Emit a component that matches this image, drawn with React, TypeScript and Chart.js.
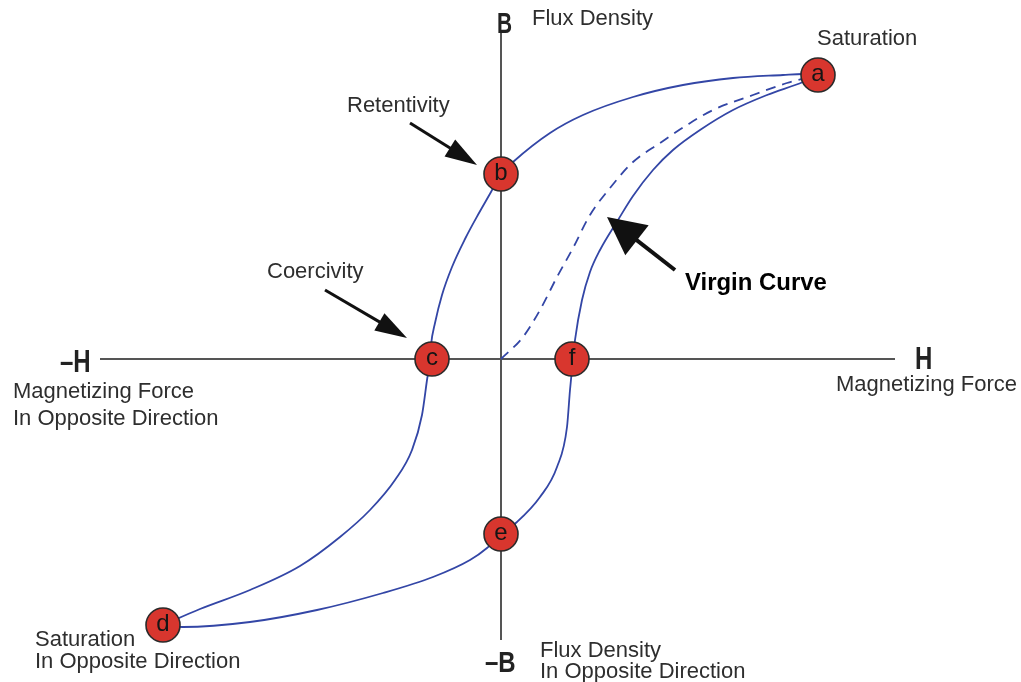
import { useEffect, useRef } from "react";
import { Chart, registerables } from "chart.js";

Chart.register(...registerables);

// Upper branch: a -> b -> c -> d (H, B in arbitrary units, origin at the axes crossing)
const upperH = [317, 302, 282, 232, 182, 132, 82, 49, 12, 0, -10, -22, -36, -49, -59, -66, -70, -71, -74, -79, -89, -106, -131, -161, -201, -251, -301, -338];
const upperB = [284, 285, 284, 281, 274, 262, 244, 226, 197, 185, 167, 146, 120, 92, 64, 36, 14, 0, -21, -56, -91, -121, -151, -178, -207, -231, -250, -266];

// Lower branch: d -> e -> f -> a
const lowerH = [-338, -318, -251, -184, -118, -68, -31, -14, 0, 16, 39, 56, 66, 69, 72, 74, 81, 89, 99, 117, 132, 152, 172, 199, 232, 266, 302, 317];
const lowerB = [-266, -268, -263, -251, -234, -218, -201, -189, -175, -163, -138, -108, -68, -31, 0, 19, 59, 87, 109, 139, 163, 189, 209, 229, 249, 264, 277, 284];

// Virgin curve: origin -> a
const virginH = [0, 22, 39, 56, 72, 89, 109, 132, 159, 186, 212, 252, 286, 317];
const virginB = [0, 22, 49, 82, 111, 144, 171, 197, 216, 234, 249, 264, 276, 284];

// Marked points
const pointNames = ["a", "b", "c", "d", "e", "f"];
const pointH = [317, 0, -69, -338, 0, 71];
const pointB = [284, 185, 0, -266, -175, 0];

// Axis extents
const hAxisExtent = [-401, 394];
const bAxisExtent = [-281, 329];

const toXY = (hs: number[], bs: number[]) => hs.map((h, i) => ({ x: h, y: bs[i] }));

const FONT = '"Liberation Sans", Arial, Helvetica, sans-serif';

type Txt = { t: string; h: number; b: number; size: number; bold?: boolean; sx?: number; color?: string };
const texts: Txt[] = [
  { t: "B", h: -4, b: 326, size: 29, bold: true, sx: 0.72, color: "#222" },
  { t: "Flux Density", h: 31, b: 334, size: 22, color: "#2e2e2e" },
  { t: "Saturation", h: 316, b: 314, size: 22, color: "#2e2e2e" },
  { t: "Retentivity", h: -154, b: 247, size: 22, color: "#2e2e2e" },
  { t: "Coercivity", h: -234, b: 81, size: 22, color: "#2e2e2e" },
  { t: "Virgin Curve", h: 184, b: 69, size: 23, bold: true, sx: 1.04, color: "#000" },
  { t: "–H", h: -441, b: -13, size: 32, bold: true, sx: 0.75, color: "#222" },
  { t: "Magnetizing Force", h: -488, b: -39, size: 22, color: "#2e2e2e" },
  { t: "In Opposite Direction", h: -488, b: -66, size: 22, color: "#2e2e2e" },
  { t: "H", h: 414, b: -10, size: 32, bold: true, sx: 0.75, color: "#222" },
  { t: "Magnetizing Force", h: 335, b: -32, size: 22, color: "#2e2e2e" },
  { t: "Saturation", h: -466, b: -287, size: 22, color: "#2e2e2e" },
  { t: "In Opposite Direction", h: -466, b: -309, size: 22, color: "#2e2e2e" },
  { t: "–B", h: -16, b: -313, size: 30, bold: true, sx: 0.8, color: "#222" },
  { t: "Flux Density", h: 39, b: -298, size: 22, color: "#2e2e2e" },
  { t: "In Opposite Direction", h: 39, b: -319, size: 22, color: "#2e2e2e" },
];

type Arrow = { fromH: number; fromB: number; toH: number; toB: number; width: number; headLen: number; headHalf: number };
const arrows: Arrow[] = [
  { fromH: -91, fromB: 236, toH: -24, toB: 194, width: 3, headLen: 32, headHalf: 10 },
  { fromH: -176, fromB: 69, toH: -94, toB: 21, width: 3, headLen: 32, headHalf: 10 },
  { fromH: 174, fromB: 89, toH: 106, toB: 142, width: 4, headLen: 38, headHalf: 19 },
];

const overlay = {
  id: "overlay",
  beforeDatasetsDraw(chart: any) {
    const { ctx, scales } = chart;
    const x = scales.x, y = scales.y;
    ctx.save();
    ctx.strokeStyle = "#555";
    ctx.lineWidth = 2;
    ctx.beginPath();
    ctx.moveTo(x.getPixelForValue(hAxisExtent[0]), y.getPixelForValue(0));
    ctx.lineTo(x.getPixelForValue(hAxisExtent[1]), y.getPixelForValue(0));
    ctx.moveTo(x.getPixelForValue(0), y.getPixelForValue(bAxisExtent[0]));
    ctx.lineTo(x.getPixelForValue(0), y.getPixelForValue(bAxisExtent[1]));
    ctx.stroke();
    ctx.restore();
  },
  afterDatasetsDraw(chart: any) {
    const { ctx, scales } = chart;
    const x = scales.x, y = scales.y;
    ctx.save();
    // letters in circles
    ctx.fillStyle = "#151515";
    ctx.font = `24px ${FONT}`;
    ctx.textAlign = "center";
    ctx.textBaseline = "middle";
    pointNames.forEach((n, i) => {
      ctx.fillText(n, x.getPixelForValue(pointH[i]), y.getPixelForValue(pointB[i]) - 1);
    });
    // arrows
    arrows.forEach((a) => {
      const x0 = x.getPixelForValue(a.fromH), y0 = y.getPixelForValue(a.fromB);
      const x1 = x.getPixelForValue(a.toH), y1 = y.getPixelForValue(a.toB);
      const dx = x1 - x0, dy = y1 - y0;
      const len = Math.hypot(dx, dy);
      const ux = dx / len, uy = dy / len;
      const bx = x1 - ux * a.headLen, by = y1 - uy * a.headLen;
      ctx.strokeStyle = "#111";
      ctx.fillStyle = "#111";
      ctx.lineWidth = a.width;
      ctx.beginPath();
      ctx.moveTo(x0, y0);
      ctx.lineTo(bx + ux * 2, by + uy * 2);
      ctx.stroke();
      ctx.beginPath();
      ctx.moveTo(x1, y1);
      ctx.lineTo(bx - uy * a.headHalf, by + ux * a.headHalf);
      ctx.lineTo(bx + uy * a.headHalf, by - ux * a.headHalf);
      ctx.closePath();
      ctx.fill();
    });
    // texts
    ctx.textAlign = "left";
    ctx.textBaseline = "alphabetic";
    texts.forEach((t) => {
      ctx.save();
      ctx.font = `${t.bold ? "bold " : ""}${t.size}px ${FONT}`;
      ctx.fillStyle = t.color || "#222";
      ctx.translate(x.getPixelForValue(t.h), y.getPixelForValue(t.b));
      ctx.scale(t.sx || 1, 1);
      ctx.fillText(t.t, 0, 0);
      ctx.restore();
    });
    ctx.restore();
  },
};

export default function App() {
  const ref = useRef<HTMLCanvasElement | null>(null);
  useEffect(() => {
    document.body.style.margin = "0";
    document.body.style.background = "#fff";
    const canvas = ref.current!;
    const curveColor = "#3346a6";
    const curve = {
      showLine: true,
      borderColor: curveColor,
      borderWidth: 1.8,
      pointRadius: 0,
      cubicInterpolationMode: "monotone" as const,
      fill: false,
    };
    const chart = new Chart(canvas, {
      type: "scatter",
      data: {
        datasets: [
          {
            label: "points",
            data: toXY(pointH, pointB),
            pointRadius: 17,
            pointHoverRadius: 17,
            backgroundColor: "#d8362e",
            borderColor: "#2a2a2a",
            borderWidth: 1.6,
            showLine: false,
          },
          { label: "upper", data: toXY(upperH, upperB), ...curve },
          { label: "lower", data: toXY(lowerH, lowerB), ...curve },
          { label: "virgin", data: toXY(virginH, virginB), ...curve, borderDash: [10, 7] },
        ],
      },
      options: {
        animation: false,
        responsive: false,
        layout: { padding: 0, autoPadding: false },
        plugins: { legend: { display: false }, tooltip: { enabled: false } },
        events: [],
        scales: {
          x: { type: "linear", min: -501, max: 520, display: false },
          y: { type: "linear", min: -323, max: 359, display: false },
        },
      },
      plugins: [overlay],
    });
    return () => chart.destroy();
  }, []);
  return <canvas ref={ref} width={1021} height={682} style={{ display: "block" }} />;
}
